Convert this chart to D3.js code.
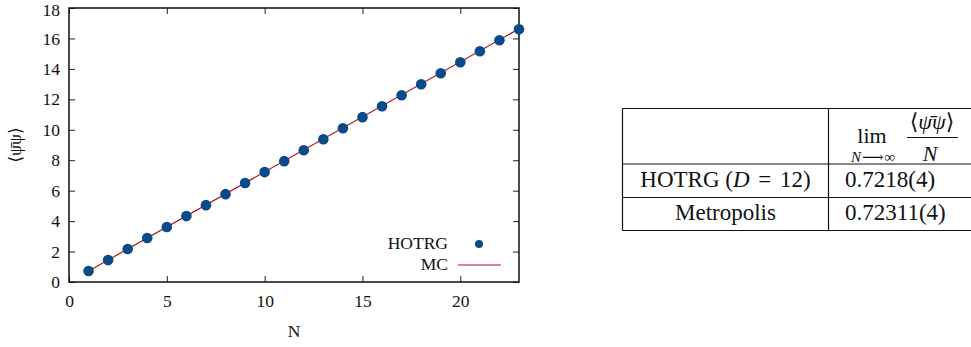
<!DOCTYPE html>
<html lang="en">
<head>
  <meta charset="UTF-8" />
  <title>psibar psi vs N</title>
  <style>
    body { margin: 0; background: white; }
  </style>
</head>
<body>
  <svg id="chart" width="971" height="347"></svg>
  <script src="https://d3js.org/d3.v7.min.js"></script>
  <script>
    // HOTRG points
    const sizes = [1, 2, 3, 4, 5, 6, 7, 8, 9, 10, 11, 12, 13, 14, 15, 16, 17, 18, 19, 20, 21, 22, 23];
    const hotrg = [0.72, 1.44, 2.17, 2.89, 3.61, 4.33, 5.05, 5.77, 6.50, 7.22, 7.94, 8.66,
                   9.38, 10.10, 10.83, 11.55, 12.27, 12.99, 13.71, 14.44, 15.16, 15.88, 16.60];
    // MC line end points
    const mcN = [1, 23];
    const mcVal = [0.723, 16.63];
    const xTicks = [0, 5, 10, 15, 20];
    const yTicks = [0, 2, 4, 6, 8, 10, 12, 14, 16, 18];
    const tableRows = ["HOTRG", "Metropolis"];
    const tableValues = ["0.7218(4)", "0.72311(4)"];

    const serif = "'Liberation Serif', 'Times New Roman', 'DejaVu Serif', serif";
    const svg = d3.select("#chart");
    const mLeft = 69, mRight = 519, mTop = 8, mBottom = 282;

    const x = d3.scaleLinear().domain([0, 23]).range([mLeft, mRight]);
    const y = d3.scaleLinear().domain([0, 18]).range([mBottom, mTop]);

    const g = svg.append("g");

    // axes (gnuplot style, ticks inward, mirrored)
    g.append("g")
      .attr("transform", `translate(0,${mBottom})`)
      .call(d3.axisBottom(x).tickValues(xTicks).tickSizeInner(-6).tickSizeOuter(0).tickPadding(13))
      .call(a => a.select(".domain").remove());
    g.append("g")
      .attr("transform", `translate(0,${mTop})`)
      .call(d3.axisTop(x).tickValues(xTicks).tickSizeInner(-6).tickSizeOuter(0).tickFormat(""))
      .call(a => a.select(".domain").remove());
    g.append("g")
      .attr("transform", `translate(${mLeft},0)`)
      .call(d3.axisLeft(y).tickValues(yTicks).tickSizeInner(-6).tickSizeOuter(0).tickPadding(9))
      .call(a => a.select(".domain").remove())
      // keep the top label inside the page
      .call(a => a.selectAll(".tick text").filter(d => d === 18).attr("dy", "0.45em"));
    g.append("g")
      .attr("transform", `translate(${mRight},0)`)
      .call(d3.axisRight(y).tickValues(yTicks).tickSizeInner(-6).tickSizeOuter(0).tickFormat(""))
      .call(a => a.select(".domain").remove());

    g.selectAll(".tick line").attr("stroke", "#222").attr("stroke-width", 1);
    g.selectAll(".tick text")
      .style("font-family", serif).style("font-size", "17.5px").attr("fill", "#111");

    g.append("rect")
      .attr("x", mLeft).attr("y", mTop)
      .attr("width", mRight - mLeft).attr("height", mBottom - mTop)
      .attr("fill", "none").attr("stroke", "#111").attr("stroke-width", 1.5);

    // MC line
    const line = d3.line().x(d => x(d[0])).y(d => y(d[1]));
    g.append("path")
      .datum(mcN.map((n, i) => [n, mcVal[i]]))
      .attr("d", line)
      .attr("fill", "none")
      .attr("stroke", "#a3181f")
      .attr("stroke-width", 1.2);

    // HOTRG points
    g.selectAll(".pt")
      .data(sizes.map((n, i) => [n, hotrg[i]]))
      .enter()
      .append("circle")
      .attr("class", "pt")
      .attr("cx", d => x(d[0]))
      .attr("cy", d => y(d[1]))
      .attr("r", 5.3)
      .attr("fill", "#0b4a8a");

    function label(parent, px, py, size, anchor) {
      return parent.append("text").attr("x", px).attr("y", py)
        .attr("text-anchor", anchor || "start")
        .style("font-family", serif).style("font-size", size + "px").attr("fill", "#111");
    }

    // legend
    label(g, 448, 249, 17.5, "end").text("HOTRG");
    g.append("circle").attr("cx", 479).attr("cy", 244).attr("r", 4).attr("fill", "#0b4a8a");
    label(g, 448, 270, 17.5, "end").text("MC");
    g.append("line").attr("x1", 458).attr("x2", 501).attr("y1", 265).attr("y2", 265)
      .attr("stroke", "#a3181f").attr("stroke-width", 1.2);

    // axis labels
    label(g, (mLeft + mRight) / 2, 337, 17.5, "middle").text("N");
    label(g, 0, 0, 17.5, "middle")
      .attr("transform", "translate(21,145) rotate(-90)")
      .text("\u27E8\u03C8\u0304\u03C8\u27E9");

    // table
    const t = svg.append("g");
    const tx0 = 622.5, tx1 = 828.5, tx2 = 971;
    const rowY = [108.5, 164, 197.5, 230.5];
    rowY.forEach(yy => {
      t.append("line").attr("x1", tx0).attr("x2", tx2).attr("y1", yy).attr("y2", yy)
        .attr("stroke", "#111").attr("stroke-width", 1.2);
    });
    [tx0, tx1].forEach(xx => {
      t.append("line").attr("x1", xx).attr("x2", xx).attr("y1", rowY[0]).attr("y2", rowY[3])
        .attr("stroke", "#111").attr("stroke-width", 1.2);
    });

    // header cell: lim_{N->inf} <psibar psi>/N
    label(t, 872, 143, 22, "middle").text("lim");
    const sub = label(t, 873, 162, 15, "middle");
    sub.append("tspan").style("font-style", "italic").text("N");
    sub.append("tspan").attr("dx", 1).text("\u27F6");
    sub.append("tspan").attr("dx", 1).text("\u221E");
    const num = label(t, 932, 129, 22, "middle");
    num.append("tspan").text("\u27E8");
    num.append("tspan").style("font-style", "italic").text("\u03C8\u0304\u03C8");
    num.append("tspan").text("\u27E9");
    t.append("line").attr("x1", 907).attr("x2", 958).attr("y1", 137.5).attr("y2", 137.5)
      .attr("stroke", "#111").attr("stroke-width", 1);
    label(t, 930, 161, 22, "middle").style("font-style", "italic").text("N");

    // body rows
    const first = label(t, 725.5, 187, 23, "middle");
    first.append("tspan").text(tableRows[0] + " (");
    first.append("tspan").style("font-style", "italic").text("D");
    first.append("tspan").attr("dx", 3).text(" = ");
    first.append("tspan").attr("dx", 3).text("12)");
    label(t, 725.5, 220, 23, "middle").text(tableRows[1]);
    tableValues.forEach((v, i) => {
      label(t, 845, i === 0 ? 187 : 220, 23).text(v);
    });
  </script>
</body>
</html>
